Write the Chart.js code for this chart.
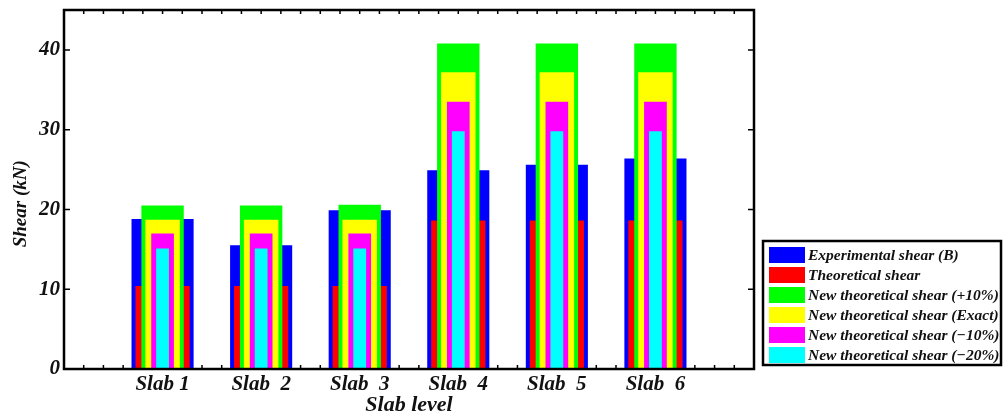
<!DOCTYPE html>
<html>
<head>
<meta charset="utf-8">
<script src="https://cdn.jsdelivr.net/npm/chart.js@4/dist/chart.umd.min.js"></script>
<style>
html,body{margin:0;padding:0;background:#fff;}
#wrap{position:relative;width:1003px;height:419px;}
</style>
</head>
<body>
<div id="wrap"><canvas id="c" width="1003" height="419"></canvas></div>
<script>
const categories = ['Slab 1', 'Slab  2', 'Slab  3', 'Slab  4', 'Slab  5', 'Slab  6'];
const experimental = [18.8, 15.5, 19.9, 24.9, 25.6, 26.4];
const theoretical = [10.4, 10.4, 10.4, 18.6, 18.6, 18.6];
const newPlus10 = [20.5, 20.5, 20.6, 40.8, 40.8, 40.8];
const newExact = [18.7, 18.7, 18.7, 37.2, 37.2, 37.2];
const newMinus10 = [17.0, 17.0, 17.0, 33.5, 33.5, 33.5];
const newMinus20 = [15.1, 15.1, 15.1, 29.8, 29.8, 29.8];
const seriesLabels = ['Experimental shear (B)', 'Theoretical shear', 'New theoretical shear (+10%)',
  'New theoretical shear (Exact)', 'New theoretical shear (\u221210%)', 'New theoretical shear (\u221220%)'];
const yTicks = [0, 10, 20, 30, 40];

const FONT = 'Liberation Serif, Times New Roman, serif';
const pts = arr => arr.map((v, i) => ({x: i + 1, y: v}));

function ds(label, data, color, pct, order) {
  return {label, data: pts(data), backgroundColor: color, borderWidth: 0,
    barPercentage: pct, categoryPercentage: 1, grouped: false, order};
}

const framePlugin = {
  id: 'frame',
  beforeDatasetsDraw(chart) {
    const {ctx, chartArea: a, scales: {x, y}} = chart;
    ctx.save();
    ctx.strokeStyle = '#000';
    ctx.lineWidth = 1.5;
    ctx.beginPath();
    for (let k = 0; k <= 35; k++) {
      const px = x.getPixelForValue(k / 5);
      ctx.moveTo(px, a.bottom); ctx.lineTo(px, a.bottom - 4);
      ctx.moveTo(px, a.top); ctx.lineTo(px, a.top + 4);
    }
    yTicks.forEach(v => {
      const py = y.getPixelForValue(v);
      ctx.moveTo(a.left, py); ctx.lineTo(a.left + 6, py);
      ctx.moveTo(a.right, py); ctx.lineTo(a.right - 6, py);
    });
    ctx.stroke();
    ctx.restore();
  },
  afterDatasetsDraw(chart) {
    const {ctx, chartArea: a} = chart;
    ctx.save();
    ctx.strokeStyle = '#000';
    ctx.lineWidth = 2.5;
    ctx.strokeRect(a.left, a.top, a.right - a.left, a.bottom - a.top);
    ctx.restore();
  },
  afterDraw(chart) {
    const {ctx} = chart;
    const L = 763, T = 241, R = 1001, B = 365;
    ctx.save();
    ctx.fillStyle = '#fff';
    ctx.fillRect(L, T, R - L, B - T);
    ctx.strokeStyle = '#000';
    ctx.lineWidth = 2.5;
    ctx.strokeRect(L, T, R - L, B - T);
    ctx.font = 'italic bold 15.5px ' + FONT;
    ctx.textBaseline = 'middle';
    ctx.textAlign = 'left';
    chart.data.datasets.forEach((d, i) => {
      const cy = 255 + i * 20;
      ctx.fillStyle = d.backgroundColor;
      ctx.fillRect(769, cy - 8, 36, 16);
      ctx.fillStyle = '#111';
      ctx.fillText(d.label, 808, cy + 1);
    });
    ctx.restore();
  }
};

new Chart(document.getElementById('c'), {
  type: 'bar',
  data: {
    datasets: [
      ds(seriesLabels[0], experimental, '#0000ff', 0.63, 6),
      ds(seriesLabels[1], theoretical, '#ff0000', 0.55, 5),
      ds(seriesLabels[2], newPlus10, '#00ff00', 0.43, 4),
      ds(seriesLabels[3], newExact, '#ffff00', 0.35, 3),
      ds(seriesLabels[4], newMinus10, '#ff00ff', 0.23, 2),
      ds(seriesLabels[5], newMinus20, '#00ffff', 0.13, 1)
    ]
  },
  options: {
    responsive: false,
    animation: false,
    layout: {padding: {top: 10, right: 249, left: 0, bottom: 0}},
    plugins: {legend: {display: false}, tooltip: {enabled: false}},
    scales: {
      x: {
        type: 'linear', min: 0, max: 7, offset: false,
        grid: {display: false, drawTicks: false, offset: false},
        border: {display: false},
        ticks: {
          stepSize: 1, autoSkip: false, maxRotation: 0, padding: 3, color: '#111',
          font: {family: FONT, size: 21, style: 'italic', weight: 'bold'},
          callback: v => (v >= 1 && v <= categories.length) ? categories[v - 1] : ''
        },
        title: {display: true, text: 'Slab level', color: '#111', padding: {top: 0, bottom: 0},
          font: {family: FONT, size: 22, style: 'italic', weight: 'bold'}},
        afterFit: s => { s.height = 50; s.paddingLeft = 0; s.paddingRight = 0; }
      },
      y: {
        min: 0, max: 45,
        grid: {display: false, drawTicks: false},
        border: {display: false},
        afterBuildTicks: s => { s.ticks = yTicks.map(v => ({value: v})); },
        ticks: {padding: 4, color: '#111',
          font: {family: FONT, size: 21, style: 'italic', weight: 'bold'}},
        title: {display: true, text: 'Shear (kN)\u00a0\u00a0\u00a0\u00a0\u00a0\u00a0', color: '#111', padding: {top: 10, bottom: 0},
          font: {family: FONT, size: 19, style: 'italic', weight: 'bold'}},
        afterFit: s => { s.width = 64; s.paddingTop = 0; s.paddingBottom = 0; }
      }
    }
  },
  plugins: [framePlugin]
});
</script>
</body>
</html>
